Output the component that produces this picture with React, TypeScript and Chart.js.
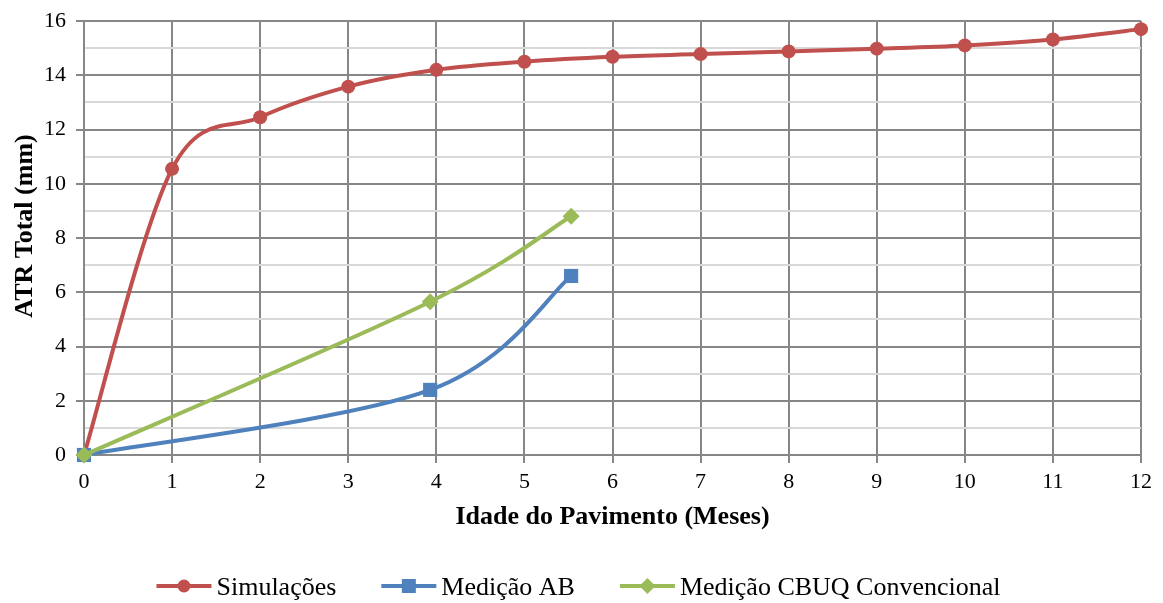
import React, { useEffect, useRef } from "react";
import { Chart, registerables } from "chart.js";

Chart.register(...registerables);

const simX = [0, 1, 2, 3, 4, 5, 6, 7, 8, 9, 10, 11, 12];
const simY = [0, 10.55, 12.45, 13.58, 14.2, 14.5, 14.68, 14.78, 14.88, 14.98, 15.1, 15.32, 15.7];
const abX = [0, 3.93, 5.53];
const abY = [0, 2.4, 6.6];
const cbuqX = [0, 3.93, 5.53];
const cbuqY = [0, 5.65, 8.8];
const seriesNames = ["Simulações", "Medição AB", "Medição CBUQ Convencional"];
const colors = ["#C0504D", "#4F81BD", "#9BBB59"];
const markers = ["circle", "rect", "rectRot"];
const markerRadius = [7, 10, 8.5];
const xTitle = "Idade do Pavimento (Meses)";
const yTitle = "ATR Total (mm)";

const FONT = "'Liberation Serif', 'Times New Roman', serif";

// Excel-like smoothing (Catmull-Rom with 1/6 factor)
const smoothPlugin = {
  id: "excelSmooth",
  beforeDatasetsDraw(chart: any) {
    chart.data.datasets.forEach((_: any, di: number) => {
      const meta = chart.getDatasetMeta(di);
      const pts = meta.data;
      const n = pts.length;
      for (let i = 0; i < n; i++) {
        const p = pts[i];
        const prev = pts[Math.max(0, i - 1)];
        const next = pts[Math.min(n - 1, i + 1)];
        const dx = (next.x - prev.x) / 6;
        const dy = (next.y - prev.y) / 6;
        p.cp1x = p.x - dx;
        p.cp1y = p.y - dy;
        p.cp2x = p.x + dx;
        p.cp2y = p.y + dy;
      }
      if (meta.dataset) meta.dataset._pointsUpdated = true;
    });
  },
};

const titlePlugin = {
  id: "yTitle",
  afterDraw(chart: any) {
    const ctx = chart.ctx;
    ctx.save();
    ctx.font = `bold 26px ${FONT}`;
    ctx.fillStyle = "#000";
    ctx.textAlign = "center";
    ctx.textBaseline = "middle";
    ctx.translate(25, 226);
    ctx.rotate(-Math.PI / 2);
    ctx.fillText(yTitle, 0, 0);
    ctx.restore();
  },
};

const legendPlugin = {
  id: "customLegend",
  afterDraw(chart: any) {
    const ctx = chart.ctx;
    ctx.save();
    ctx.font = `26px ${FONT}`;
    const lineLen = 55;
    const gapText = 5;
    const gapItem = 45;
    const widths = seriesNames.map((n) => ctx.measureText(n).width);
    let total = 0;
    widths.forEach((w, i) => {
      total += lineLen + gapText + w + (i < widths.length - 1 ? gapItem : 0);
    });
    let x = (chart.width - total) / 2 - 3;
    const y = 586;
    seriesNames.forEach((name, i) => {
      ctx.strokeStyle = colors[i];
      ctx.lineWidth = 4;
      ctx.beginPath();
      ctx.moveTo(x, y);
      ctx.lineTo(x + lineLen, y);
      ctx.stroke();
      ctx.fillStyle = colors[i];
      const cx = x + lineLen / 2;
      ctx.beginPath();
      if (markers[i] === "circle") {
        ctx.arc(cx, y, 6.5, 0, Math.PI * 2);
      } else if (markers[i] === "rect") {
        const s = 7;
        ctx.rect(cx - s, y - s, 2 * s, 2 * s);
      } else {
        const d = 8;
        ctx.moveTo(cx, y - d);
        ctx.lineTo(cx + d, y);
        ctx.lineTo(cx, y + d);
        ctx.lineTo(cx - d, y);
        ctx.closePath();
      }
      ctx.fill();
      ctx.fillStyle = "#000";
      ctx.textBaseline = "alphabetic";
      ctx.textAlign = "left";
      ctx.fillText(name, x + lineLen + gapText, y + 9);
      x += lineLen + gapText + widths[i] + gapItem;
    });
    ctx.restore();
  },
};

export default function App() {
  const ref = useRef<HTMLCanvasElement>(null);
  useEffect(() => {
    document.body.style.margin = "0";
    const toPts = (xs: number[], ys: number[]) => xs.map((x, i) => ({ x, y: ys[i] }));
    const mk = (i: number, data: any[], order: number) => ({
      label: seriesNames[i],
      data,
      borderColor: colors[i],
      backgroundColor: colors[i],
      pointBackgroundColor: colors[i],
      pointBorderColor: colors[i],
      pointStyle: markers[i],
      pointRadius: markerRadius[i],
      pointBorderWidth: 0,
      borderWidth: 4,
      tension: 0.4,
      clip: false,
      order,
    });
    const chart = new Chart(ref.current!, {
      type: "line",
      data: {
        datasets: [
          mk(0, toPts(simX, simY), 3),
          mk(1, toPts(abX, abY), 2),
          mk(2, toPts(cbuqX, cbuqY), 1),
        ] as any,
      },
      options: {
        animation: false,
        responsive: false,
        devicePixelRatio: 1,
        layout: { padding: { top: 19, right: 22, bottom: 58, left: 0 } },
        plugins: { legend: { display: false }, tooltip: { enabled: false } },
        scales: {
          x: {
            type: "linear",
            min: 0,
            max: 12,
            afterFit: (s: any) => {
              s.height = 90;
            },
            ticks: {
              stepSize: 1,
              autoSkip: false,
              color: "#000",
              font: { family: FONT, size: 22 },
              padding: 6,
              maxRotation: 0,
            },
            grid: {
              color: "#878787",
              lineWidth: 2,
              tickLength: 8,
              tickColor: "#878787",
            },
            border: { color: "#878787", width: 2 },
            title: {
              display: true,
              text: xTitle,
              color: "#000",
              font: { family: FONT, size: 26, weight: "bold" },
              padding: { top: 0, bottom: 12 },
            },
          },
          y: {
            type: "linear",
            min: 0,
            max: 16,
            afterFit: (s: any) => {
              s.width = 84;
            },
            ticks: {
              stepSize: 1,
              autoSkip: false,
              color: "#000",
              font: { family: FONT, size: 22, lineHeight: 1 },
              padding: 10,
              callback: (v: any) => (Number(v) % 2 === 0 ? String(v) : ""),
            },
            grid: {
              color: (c: any) => (c.tick && c.tick.value % 2 !== 0 ? "#d9d9d9" : "#878787"),
              lineWidth: 2,
              tickLength: 8,
              tickColor: (c: any) => (c.tick && c.tick.value % 2 !== 0 ? "rgba(0,0,0,0)" : "#878787"),
            },
            border: { color: "#878787", width: 2 },
            title: { display: false },
          },
        },
      },
      plugins: [smoothPlugin, titlePlugin, legendPlugin],
    });
    return () => chart.destroy();
  }, []);
  return (
    <div style={{ width: 1163, height: 603, background: "#fff" }}>
      <canvas ref={ref} width={1163} height={603} />
    </div>
  );
}
